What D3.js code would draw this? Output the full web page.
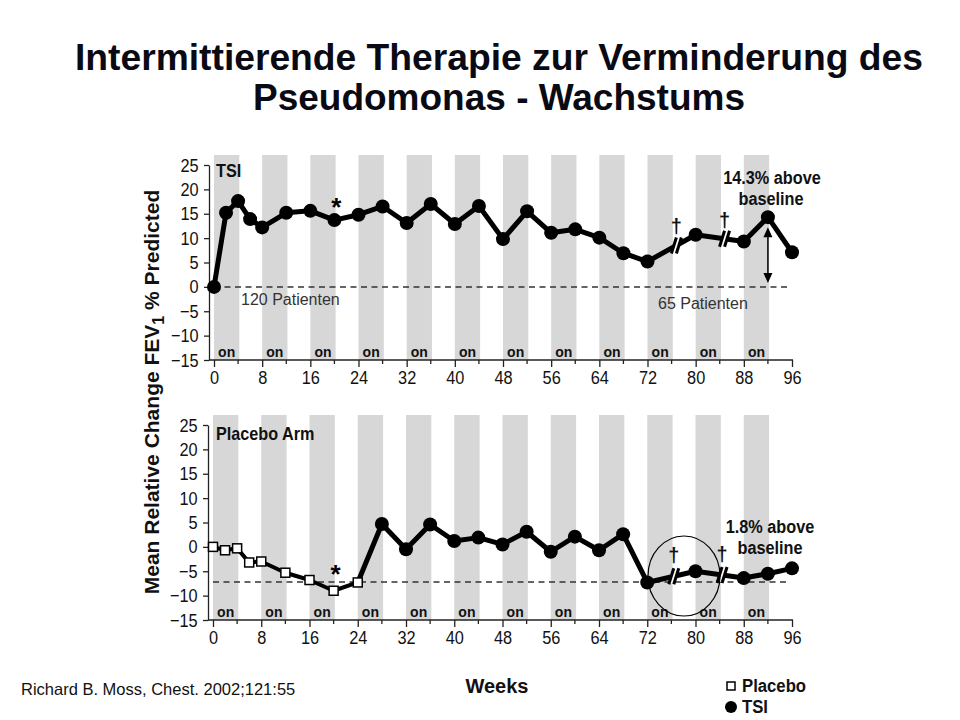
<!DOCTYPE html>
<html>
<head>
<meta charset="utf-8">
<script src="https://cdn.jsdelivr.net/npm/d3@7"></script>
<style>
  html, body { margin: 0; padding: 0; background: #fff; }
  svg { display: block; font-family: "Liberation Sans", Arial, Helvetica, sans-serif; }
</style>
</head>
<body>
<svg id="chart" width="960" height="720"></svg>
<script>
// ---------------- DATA ----------------
const titleLines = ["Intermittierende Therapie zur Verminderung des", "Pseudomonas - Wachstums"];
const yTicks = [25, 20, 15, 10, 5, 0, -5, -10, -15];
const xTicks = [0, 8, 16, 24, 32, 40, 48, 56, 64, 72, 80, 88, 96];
const onPeriods = [0, 8, 16, 24, 32, 40, 48, 56, 64, 72, 80, 88]; // start week of each "on" cycle
const onLength = 4.2;

// Top panel: TSI arm
const topWeeks = [0, 2, 4, 6, 8, 12, 16, 20, 24, 28, 32, 36, 40, 44, 48, 52, 56, 60, 64, 68, 72, 80, 88, 92, 96];
const topTSI   = [0, 15.2, 17.6, 13.9, 12.2, 15.2, 15.6, 13.7, 14.8, 16.5, 13.1, 17.0, 12.9, 16.6, 9.8, 15.5, 11.1, 11.8, 10.1, 6.9, 5.2, 10.7, 9.3, 14.3, 7.1];
const topBaseline = 0;
const topBreaks = [76.8, 84.8];

// Bottom panel: placebo arm (placebo then open-label TSI)
const placeboWeeks = [0, 2, 4, 6, 8, 12, 16, 20, 24];
const placeboVals  = [0, -0.7, -0.3, -3.2, -3.0, -5.3, -6.8, -9.0, -7.3];
const botTSIWeeks  = [28, 32, 36, 40, 44, 48, 52, 56, 60, 64, 68, 72, 80, 88, 92, 96];
const botTSIVals   = [4.7, -0.5, 4.6, 1.2, 1.9, 0.5, 3.1, -1.0, 2.1, -0.7, 2.6, -7.3, -5.0, -6.4, -5.5, -4.4];
const botBaseline = -7.2;
const botBreaks = [76.4, 84.4];

// ---------------- DRAW ----------------
const svg = d3.select("#chart");
const black = "#000";

// Title
svg.append("text").attr("x", 499).attr("y", 70).attr("text-anchor", "middle")
  .attr("font-size", 36).attr("font-weight", "bold").attr("fill", "#0a0a14")
  .attr("textLength", 848).attr("lengthAdjust", "spacingAndGlyphs").text(titleLines[0]);
svg.append("text").attr("x", 499).attr("y", 110).attr("text-anchor", "middle")
  .attr("font-size", 36).attr("font-weight", "bold").attr("fill", "#0a0a14")
  .attr("textLength", 492).attr("lengthAdjust", "spacingAndGlyphs").text(titleLines[1]);

function interp(weeks, vals, w) {
  for (let i = 0; i < weeks.length - 1; i++) {
    if (w >= weeks[i] && w <= weeks[i + 1]) {
      const t = (w - weeks[i]) / (weeks[i + 1] - weeks[i]);
      return vals[i] + t * (vals[i + 1] - vals[i]);
    }
  }
  return vals[vals.length - 1];
}

function panel(cfg) {
  const g = svg.append("g");
  const x = d3.scaleLinear().domain([0, 96]).range([cfg.x0, 792]);
  const y = d3.scaleLinear().domain([-15, 25]).range([cfg.yBottom, cfg.yBottom - 195]);

  // gray "on" bands
  g.selectAll("rect.band").data(onPeriods).join("rect")
    .attr("x", d => x(d)).attr("width", d => x(d + onLength) - x(d))
    .attr("y", cfg.yBottom - 205).attr("height", 205)
    .attr("fill", "#d7d7d7");

  // "on" labels
  g.selectAll("text.on").data(onPeriods).join("text")
    .attr("x", d => x(d + onLength / 2)).attr("y", cfg.yBottom - 3)
    .attr("text-anchor", "middle").attr("font-size", 14).attr("font-weight", "bold")
    .attr("fill", "#111").text("on");

  // Y axis
  const yAxis = g.append("g").attr("transform", `translate(${cfg.x0 - 5},0)`)
    .call(d3.axisLeft(y).tickValues(yTicks).tickSize(5).tickSizeOuter(0).tickFormat(d3.format("d")));
  yAxis.select(".domain").attr("stroke", "#222").attr("stroke-width", 1.3);
  yAxis.selectAll(".tick line").attr("stroke", "#222").attr("stroke-width", 1.3);
  yAxis.selectAll(".tick text").attr("font-size", 19).attr("fill", "#111")
    .attr("x", -12).attr("transform", "scale(0.86,1)");

  // X axis
  const xAxis = g.append("g").attr("transform", `translate(0,${cfg.yBottom})`)
    .call(d3.axisBottom(x).tickValues(xTicks).tickSize(7).tickSizeOuter(0).tickFormat(d3.format("d")));
  xAxis.select(".domain").remove();
  g.append("line").attr("x1", cfg.x0 - 5).attr("x2", x(96) + 1)
    .attr("y1", cfg.yBottom).attr("y2", cfg.yBottom).attr("stroke", "#222").attr("stroke-width", 1.5);
  xAxis.selectAll(".tick line").attr("stroke", "#222").attr("stroke-width", 1.3);
  xAxis.selectAll(".tick text").attr("font-size", 19).attr("fill", "#111")
    .attr("y", 11).attr("transform", "scale(0.86,1)");
  // minor ticks
  g.selectAll("line.minor").data(xTicks.slice(0, -1).map(d => d + 4)).join("line")
    .attr("x1", d => x(d)).attr("x2", d => x(d))
    .attr("y1", cfg.yBottom).attr("y2", cfg.yBottom + 4)
    .attr("stroke", "#222").attr("stroke-width", 1.3);

  // dashed baseline
  g.append("line").attr("x1", x(0)).attr("x2", x(95.5))
    .attr("y1", y(cfg.baseline)).attr("y2", y(cfg.baseline))
    .attr("stroke", "#333").attr("stroke-width", 1.5).attr("stroke-dasharray", "6,4.5");

  return { g, x, y };
}

function breakMark(g, px, py) {
  const pts = [[px - 5, py + 7], [px, py - 7], [px + 5, py - 7], [px, py + 7]];
  g.append("polygon").attr("points", pts.map(p => p.join(",")).join(" ")).attr("fill", "#fff");
  [-2.5, 2.5].forEach(dx => {
    g.append("line").attr("x1", px + dx - 2.5).attr("y1", py + 8)
      .attr("x2", px + dx + 2.5).attr("y2", py - 8)
      .attr("stroke", black).attr("stroke-width", 3);
  });
}

function dagger(g, px, py) {
  g.append("text").attr("x", px).attr("y", py).attr("text-anchor", "middle")
    .attr("font-size", 20).attr("font-weight", "bold").attr("fill", "#111").text("\u2020");
}

function condText(g, txt, px, py, size, anchor, scale) {
  g.append("text").attr("transform", `translate(${px},${py}) scale(${scale},1)`)
    .attr("text-anchor", anchor).attr("font-size", size).attr("font-weight", "bold")
    .attr("fill", "#111").text(txt);
}

// ---------- TOP PANEL ----------
const topP = panel({ x0: 214, yBottom: 360, baseline: topBaseline });
{
  const { g, x, y } = topP;
  const line = d3.line().x((d, i) => x(topWeeks[i])).y(d => y(d));
  g.append("path").datum(topTSI).attr("d", line).attr("fill", "none")
    .attr("stroke", black).attr("stroke-width", 5).attr("stroke-linejoin", "round");
  topBreaks.forEach(w => breakMark(g, x(w), y(interp(topWeeks, topTSI, w))));
  g.selectAll("circle.pt").data(topTSI).join("circle")
    .attr("cx", (d, i) => x(topWeeks[i])).attr("cy", d => y(d)).attr("r", 7).attr("fill", black);
  topBreaks.forEach(w => dagger(g, x(w), y(interp(topWeeks, topTSI, w)) - 12));

  // arrow at week 92
  const aw = 92, av = topTSI[topWeeks.indexOf(92)];
  const ax = x(aw), ay1 = y(av) + 10, ay2 = y(topBaseline) - 4;
  g.append("line").attr("x1", ax).attr("x2", ax).attr("y1", ay1 + 6).attr("y2", ay2 - 6)
    .attr("stroke", black).attr("stroke-width", 1.5);
  g.append("polygon").attr("points", `${ax},${ay1} ${ax - 4.5},${ay1 + 10} ${ax + 4.5},${ay1 + 10}`).attr("fill", black);
  g.append("polygon").attr("points", `${ax},${ay2} ${ax - 4.5},${ay2 - 10} ${ax + 4.5},${ay2 - 10}`).attr("fill", black);

  condText(g, "TSI", 216, 177, 18, "start", 0.9);
  condText(g, "14.3% above", 772, 184, 18.5, "middle", 0.88);
  condText(g, "baseline", 771, 205, 18.5, "middle", 0.88);
  g.append("text").attr("font-size", 26).attr("font-weight", "bold")
    .attr("text-anchor", "middle").attr("x", x(20) + 2).attr("y", y(topTSI[7]) - 4).text("*");
  g.append("text").attr("x", 241).attr("y", 305).attr("font-size", 16).attr("fill", "#333").text("120 Patienten");
  g.append("text").attr("x", 658).attr("y", 309).attr("font-size", 16).attr("fill", "#333").text("65 Patienten");
}

// ---------- BOTTOM PANEL ----------
const botP = panel({ x0: 213, yBottom: 620, baseline: botBaseline });
{
  const { g, x, y } = botP;
  const pLine = d3.line().x((d, i) => x(placeboWeeks[i])).y(d => y(d));
  g.append("path").datum(placeboVals).attr("d", pLine).attr("fill", "none")
    .attr("stroke", black).attr("stroke-width", 4).attr("stroke-linejoin", "round");
  const tw = [placeboWeeks[placeboWeeks.length - 1]].concat(botTSIWeeks);
  const tv = [placeboVals[placeboVals.length - 1]].concat(botTSIVals);
  const tLine = d3.line().x((d, i) => x(tw[i])).y(d => y(d));
  g.append("path").datum(tv).attr("d", tLine).attr("fill", "none")
    .attr("stroke", black).attr("stroke-width", 5).attr("stroke-linejoin", "round");
  botBreaks.forEach(w => breakMark(g, x(w), y(interp(tw, tv, w))));
  g.selectAll("rect.pt").data(placeboVals).join("rect")
    .attr("x", (d, i) => x(placeboWeeks[i]) - 4.5).attr("y", d => y(d) - 4.5)
    .attr("width", 9).attr("height", 9).attr("fill", "#fff").attr("stroke", black).attr("stroke-width", 1.5);
  g.selectAll("circle.pt").data(botTSIVals).join("circle")
    .attr("cx", (d, i) => x(botTSIWeeks[i])).attr("cy", d => y(d)).attr("r", 7).attr("fill", black);
  botBreaks.forEach(w => dagger(g, x(w), y(interp(tw, tv, w)) - 14));

  condText(g, "Placebo Arm", 216, 440, 18, "start", 0.9);
  condText(g, "1.8% above", 770, 533, 18.5, "middle", 0.88);
  condText(g, "baseline", 770, 554, 18.5, "middle", 0.88);
  g.append("text").attr("font-size", 26).attr("font-weight", "bold").attr("text-anchor", "middle")
    .attr("x", x(20) + 2).attr("y", y(placeboVals[7]) - 8).text("*");

  // circled annotation
  g.append("ellipse").attr("cx", 684).attr("cy", 576).attr("rx", 36).attr("ry", 40)
    .attr("fill", "none").attr("stroke", black).attr("stroke-width", 1.2);
}

// Y axis title
const yt = svg.append("text").attr("transform", "translate(159,392) rotate(-90)")
  .attr("text-anchor", "middle").attr("font-size", 21).attr("font-weight", "bold").attr("fill", "#111");
yt.append("tspan").text("Mean Relative Change FEV");
yt.append("tspan").attr("font-size", 16).attr("dy", 5).text("1");
yt.append("tspan").attr("dy", -5).text(" % Predicted");

// X axis title
svg.append("text").attr("x", 497).attr("y", 693).attr("text-anchor", "middle")
  .attr("font-size", 20).attr("font-weight", "bold").attr("fill", "#111").text("Weeks");

// Legend
const legendItems = ["Placebo", "TSI"];
const lg = svg.append("g");
lg.append("rect").attr("x", 727).attr("y", 682).attr("width", 8).attr("height", 8)
  .attr("fill", "#fff").attr("stroke", black).attr("stroke-width", 1.5);
lg.append("circle").attr("cx", 731).attr("cy", 707).attr("r", 6).attr("fill", black);
legendItems.forEach((t, i) => {
  lg.append("text").attr("transform", `translate(742,${692 + i * 21}) scale(0.88,1)`)
    .attr("font-size", 19).attr("font-weight", "bold").attr("fill", "#111").text(t);
});

// Source
svg.append("text").attr("transform", "translate(21,695)")
  .attr("font-size", 16.5).attr("fill", "#111").text("Richard B. Moss, Chest. 2002;121:55");
</script>
</body>
</html>
